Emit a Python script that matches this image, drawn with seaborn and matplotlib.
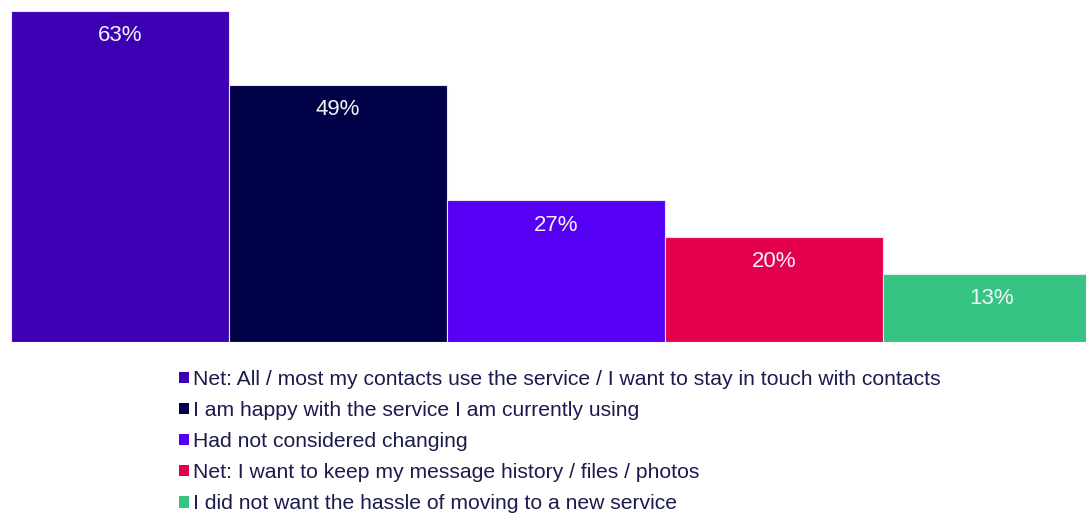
import matplotlib
matplotlib.use("Agg")
import matplotlib.pyplot as plt
from matplotlib.patches import Patch
import seaborn as sns
import pandas as pd

categories = [
    "Net: All / most my contacts use the service / I want to stay in touch with contacts",
    "I am happy with the service I am currently using",
    "Had not considered changing",
    "Net: I want to keep my message history / files / photos",
    "I did not want the hassle of moving to a new service",
]
values = [63, 49, 27, 20, 13]
colors = ["#3D00B4", "#000046", "#5500F5", "#E4004F", "#35C481"]

df = pd.DataFrame({"reason": categories, "pct": values})

sns.set_theme(style="white")
plt.rcParams["font.family"] = ["Liberation Sans", "DejaVu Sans"]

fig = plt.figure(figsize=(10.86, 5.13), dpi=100)
ax = fig.add_axes([11 / 1086, (513 - 342) / 513, 1 - 11 / 1086, 331 / 513])

sns.barplot(data=df, x="reason", y="pct", hue="reason", palette=colors,
            order=categories, hue_order=categories, width=1.0, dodge=False,
            saturation=1, legend=False, ax=ax,
            edgecolor="#E6E6F0", linewidth=0.8)

# last bar runs off the right edge of the figure
ax.set_ylim(0, max(values))
ax.set_xlim(-0.5, -0.5 + 1075 / 218)
ax.axis("off")

for i, v in enumerate(values):
    ax.annotate(f"{v}%", xy=(i, v), xytext=(0, -18), textcoords="offset points",
                ha="center", va="center", color="#F4F4F8", fontsize=16)

handles = [Patch(facecolor=c, edgecolor="none") for c in colors]
fig.legend(handles, categories, loc="upper left",
           bbox_to_anchor=(179 / 1086, 1 - 370 / 513), frameon=False,
           fontsize=15.2, labelcolor="#1B1B4D", handlelength=0.48,
           handleheight=0.48, handletextpad=0.2, labelspacing=0.57,
           borderaxespad=0, borderpad=0)

fig.savefig("out.png", dpi=100)
